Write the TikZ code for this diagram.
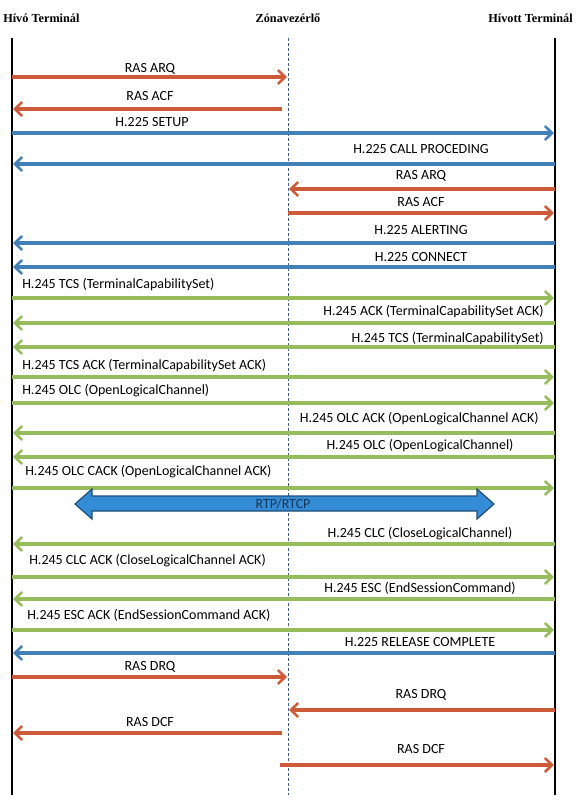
\documentclass[tikz,border=0pt]{standalone}
\usepackage{fontspec}
\setmainfont{Carlito}
\newfontfamily\hdrfont{Liberation Serif}
\usetikzlibrary{arrows.meta}
\definecolor{orng}{RGB}{205,90,56}
\definecolor{blu}{RGB}{66,128,184}
\definecolor{grn}{RGB}{150,188,92}
\definecolor{dashc}{RGB}{60,95,140}
\definecolor{rtpfill}{RGB}{52,140,214}
\definecolor{rtpline}{RGB}{31,78,121}
\newcommand\mymsg[6]{%
  \coordinate (#1s) at (#3,#5);
  \coordinate (#1e) at (#4,#5);
  \draw[#2] (#1s) -- (#1e);
  \node[lbl,#6,yshift=2.6pt] (#1l) {};}
\begin{document}
\begin{tikzpicture}[x=0.75pt,y=-0.75pt,
  msgline/.style={line width=2.8pt,-{Straight Barb[length=5.5pt,width=10.5pt,line width=1.9pt]}},
  ora/.style={msgline,draw=orng},
  bla/.style={msgline,draw=blu},
  gra/.style={msgline,draw=grn},
  lbl/.style={inner sep=0pt,font=\fontsize{10.5pt}{12pt}\selectfont,text=black},
  hdr/.style={inner sep=0pt,font=\hdrfont\bfseries\fontsize{9.2pt}{11pt}\selectfont},
  life/.style={line width=1.2pt,draw=black},
  mid/.style={line width=0.75pt,draw=dashc,dash pattern=on 2.25pt off 1.5pt}]
\useasboundingbox[fill=white] (0,0) rectangle (588,803);
% headers
\node[hdr,anchor=base west] (h1) at (3,22) {Hívó Terminál};
\node[hdr,anchor=base] (h2) at (288,22) {Zónavezérlő};
\node[hdr,anchor=base east] (h3) at (573,22) {Hívott Terminál};
% lifelines
\coordinate (Lt) at (12,38); \coordinate (Lb) at (12,795);
\coordinate (Mt) at (288,38); \coordinate (Mb) at (288,795);
\coordinate (Rt) at (555,38); \coordinate (Rb) at (555,795);
\draw[life] (Lt) -- (Lb);
\draw[life] (Rt) -- (Rb);
\draw[mid] (Mt) -- (Mb);
% messages
\mymsg{m1}{ora}{12}{287}{77}{anchor=base,at={(150,72.5)},label={[lbl]center:RAS ARQ}}
\mymsg{m2}{ora}{282}{13}{109}{anchor=base,at={(150,99.5)},label={[lbl]center:RAS ACF}}
\mymsg{m3}{bla}{12}{554}{133}{anchor=base,at={(152,125.5)},label={[lbl]center:H.225 SETUP}}
\mymsg{m4}{bla}{555}{13}{164}{anchor=base,at={(421,152.5)},label={[lbl]center:H.225 CALL PROCEDING}}
\mymsg{m5}{ora}{555}{289}{189}{anchor=base,at={(421,179.5)},label={[lbl]center:RAS ARQ}}
\mymsg{m6}{ora}{288}{554}{213}{anchor=base,at={(421,205.5)},label={[lbl]center:RAS ACF}}
\mymsg{m7}{bla}{555}{13}{243}{anchor=base,at={(421,233.5)},label={[lbl]center:H.225 ALERTING}}
\mymsg{m8}{bla}{555}{13}{267}{anchor=base,at={(421,260.5)},label={[lbl]center:H.225 CONNECT}}
\mymsg{m9}{gra}{12}{554}{298}{anchor=base west,at={(22,287.5)},label={[lbl,anchor=west]west:H.245 TCS (TerminalCapabilitySet)}}
\mymsg{m10}{gra}{555}{13}{323}{anchor=base east,at={(544,314.5)},label={[lbl,anchor=east]east:H.245 ACK (TerminalCapabilitySet ACK)}}
\mymsg{m11}{gra}{555}{13}{347}{anchor=base east,at={(544,341.5)},label={[lbl,anchor=east]east:H.245 TCS (TerminalCapabilitySet)}}
\mymsg{m12}{gra}{12}{554}{377}{anchor=base west,at={(22,368.5)},label={[lbl,anchor=west]west:H.245 TCS ACK (TerminalCapabilitySet ACK)}}
\mymsg{m13}{gra}{12}{554}{403}{anchor=base west,at={(22,394.5)},label={[lbl,anchor=west]west:H.245 OLC (OpenLogicalChannel)}}
\mymsg{m14}{gra}{555}{13}{433}{anchor=base east,at={(539,422.5)},label={[lbl,anchor=east]east:H.245 OLC ACK (OpenLogicalChannel ACK)}}
\mymsg{m15}{gra}{555}{13}{457}{anchor=base,at={(420,449.5)},label={[lbl]center:H.245 OLC (OpenLogicalChannel)}}
\mymsg{m16}{gra}{12}{554}{488}{anchor=base west,at={(25,475.5)},label={[lbl,anchor=west]west:H.245 OLC CACK (OpenLogicalChannel ACK)}}
\mymsg{m18}{gra}{555}{13}{544}{anchor=base,at={(420,537.5)},label={[lbl]center:H.245 CLC (CloseLogicalChannel)}}
\mymsg{m19}{gra}{12}{554}{577}{anchor=base west,at={(29,564.5)},label={[lbl,anchor=west]west:H.245 CLC ACK (CloseLogicalChannel ACK)}}
\mymsg{m20}{gra}{555}{13}{599}{anchor=base,at={(420,591.5)},label={[lbl]center:H.245 ESC (EndSessionCommand)}}
\mymsg{m21}{gra}{12}{554}{630}{anchor=base west,at={(27,618.5)},label={[lbl,anchor=west]west:H.245 ESC ACK (EndSessionCommand ACK)}}
\mymsg{m22}{bla}{555}{13}{653}{anchor=base,at={(420,645.5)},label={[lbl]center:H.225 RELEASE COMPLETE}}
\mymsg{m23}{ora}{12}{287}{677}{anchor=base,at={(150,670.5)},label={[lbl]center:RAS DRQ}}
\mymsg{m24}{ora}{555}{289}{710}{anchor=base,at={(421,698.5)},label={[lbl]center:RAS DRQ}}
\mymsg{m25}{ora}{282}{13}{733}{anchor=base,at={(150,725.5)},label={[lbl]center:RAS DCF}}
\mymsg{m26}{ora}{280}{554}{765}{anchor=base,at={(421,752.5)},label={[lbl]center:RAS DCF}}
% RTP/RTCP block arrow
\draw[fill=rtpfill,draw=rtpline,line width=0.9pt,line join=miter]
  (75,504) -- (92,489) -- (92,496) -- (477,496) -- (477,489) -- (494,504)
  -- (477,519) -- (477,511) -- (92,511) -- (92,519) -- cycle;
\node[lbl,text=rtpline!70!black] (rtp) at (283,504) {RTP/RTCP};
\end{tikzpicture}
\end{document}
